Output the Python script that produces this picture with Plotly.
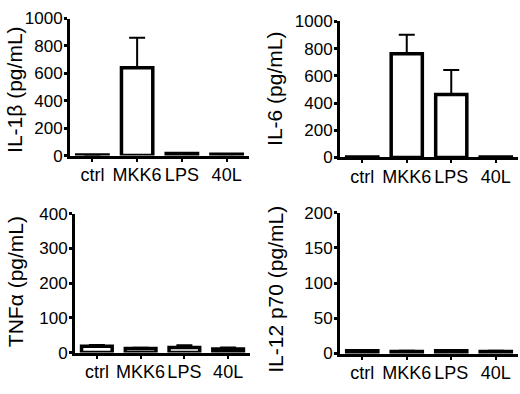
import plotly.graph_objects as go

W, H = 520, 394

categories = ["ctrl", "MKK6", "LPS", "40L"]

il1b_values = [5, 640, 15, 10]
il1b_errors = [0, 220, 3, 2]

il6_values = [3, 762, 462, 3]
il6_errors = [0, 140, 180, 0]

tnfa_values = [18, 12, 15, 10]
tnfa_errors = [4, 2, 6, 5]

il12_values = [4, 3, 4, 3]
il12_errors = [1, 1, 1, 1]

panels = [
    # values, errors, y max, dtick, title, x px range, y px (zero, top), title pos
    (il1b_values, il1b_errors, 1000, 200, "IL-1β (pg/mL)", (70, 249), (154, 10), (15, 85)),
    (il6_values, il6_errors, 1000, 200, "IL-6 (pg/mL)", (340, 518), (156, 13), (275, 84)),
    (tnfa_values, tnfa_errors, 400, 100, "TNFα (pg/mL)", (75, 250), (361, 215), (15, 287)),
    (il12_values, il12_errors, 200, 50, "IL-12 p70 (pg/mL)", (340, 518), (362, 214), (276, 295)),
]

FONT = "Liberation Sans, Arial, sans-serif"

fig = go.Figure()
annotations = []
for i, (vals, errs, ymax, dt, title, xpx, ypx, tpos) in enumerate(panels):
    n = "" if i == 0 else str(i + 1)
    xa = "x" + n
    ya = "y" + n
    fig.add_trace(go.Bar(
        x=categories, y=vals,
        xaxis=xa, yaxis=ya,
        width=0.7,
        marker=dict(color="white", line=dict(color="black", width=3.5)),
        error_y=dict(type="data", array=errs, arrayminus=[0] * len(errs),
                     symmetric=False, color="black", thickness=2, width=8),
        showlegend=False, hoverinfo="skip",
    ))
    xdom = [xpx[0] / W, xpx[1] / W]
    ydom = [1 - ypx[0] / H, 1 - ypx[1] / H]
    fig.layout["xaxis" + n] = dict(
        domain=xdom, anchor=ya, type="category", range=[-0.5, 3.5],
        showline=True, linewidth=3, linecolor="black",
        ticks="outside", ticklen=3, tickwidth=2, tickcolor="black",
        showgrid=False, zeroline=False, ticklabelstandoff=-2, tickangle=0,
        tickfont=dict(family=FONT, size=18, color="black"),
    )
    fig.layout["yaxis" + n] = dict(
        domain=ydom, anchor=xa, range=[0, ymax], dtick=dt,
        showline=True, linewidth=3, linecolor="black",
        ticks="outside", ticklen=3, tickwidth=3, tickcolor="black",
        showgrid=False, zeroline=False, ticklabelstandoff=-2,
        tickfont=dict(family=FONT, size=17, color="black"),
    )
    annotations.append(dict(
        text=title, textangle=-90, xref="paper", yref="paper",
        x=tpos[0] / W, y=1 - tpos[1] / H, xanchor="center", yanchor="middle",
        showarrow=False, font=dict(family=FONT, size=21, color="black"),
    ))

fig.update_layout(
    width=W, height=H,
    margin=dict(l=0, r=0, t=0, b=0),
    paper_bgcolor="white", plot_bgcolor="white",
    annotations=annotations,
)

fig.write_html(
    "out.html",
    config={"displayModeBar": False, "staticPlot": True},
    post_script="document.body.style.margin='0';document.body.style.overflow='hidden';",
)
